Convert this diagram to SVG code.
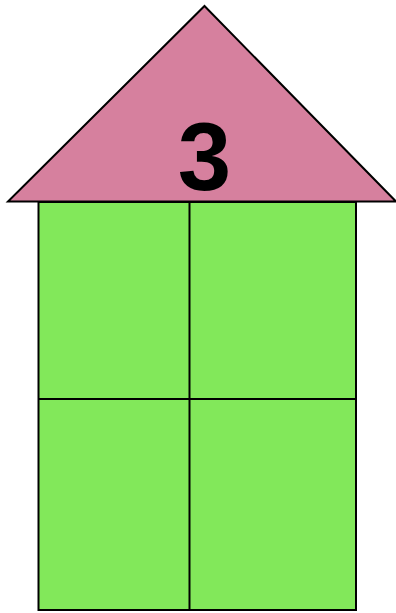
<svg xmlns="http://www.w3.org/2000/svg" width="396" height="613" viewBox="0 0 396 613">
<style>
.s{stroke:#000;stroke-width:2;}
.lbl{font-family:"Liberation Sans",Arial,sans-serif;font-weight:bold;fill:#000;}
</style>
<rect width="396" height="613" fill="#fff"/>
<g id="body">
<rect class="s" x="38.5" y="202" width="317.5" height="408" fill="#82E85A"/>
</g>
<g id="roof">
<polygon class="s" points="204.5,6 396,201.5 8,201.5" fill="#D6809E" stroke-linejoin="miter"/>
<text class="lbl" x="204.5" y="190" font-size="96" text-anchor="middle">3</text>
</g>
<g id="connectors">
<line class="s" x1="189.5" y1="202" x2="189.5" y2="610"/>
<line class="s" x1="38.5" y1="399" x2="356" y2="399"/>
</g>
</svg>
